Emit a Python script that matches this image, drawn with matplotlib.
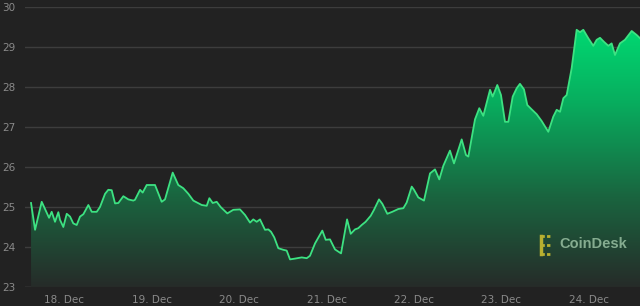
import numpy as np
import matplotlib
matplotlib.use("Agg")
import matplotlib.pyplot as plt
from matplotlib.colors import LinearSegmentedColormap
from matplotlib.patches import Polygon

# x = days since 18 Dec 00:00, y = price
days = [-0.377, -0.331, -0.255, -0.171, -0.141, -0.103, -0.065, -0.046, -0.008, 0.031,
        0.069, 0.106, 0.145, 0.183, 0.221, 0.278, 0.317, 0.374, 0.411, 0.469,
        0.506, 0.545, 0.583, 0.621, 0.678, 0.735, 0.792, 0.811, 0.869, 0.899,
        0.945, 1.040, 1.116, 1.154, 1.242, 1.306, 1.363, 1.421, 1.478, 1.574,
        1.631, 1.661, 1.699, 1.745, 1.790, 1.866, 1.935, 2.011, 2.069, 2.126,
        2.163, 2.202, 2.240, 2.297, 2.335, 2.366, 2.403, 2.449, 2.506, 2.545,
        2.583, 2.640, 2.717, 2.774, 2.811, 2.869, 2.952, 2.991, 3.040, 3.097,
        3.166, 3.235, 3.277, 3.326, 3.363, 3.402, 3.447, 3.505, 3.543, 3.600,
        3.638, 3.695, 3.752, 3.821, 3.878, 3.916, 3.974, 4.000, 4.049, 4.114,
        4.183, 4.240, 4.289, 4.335, 4.411, 4.457, 4.545, 4.594, 4.621, 4.697,
        4.746, 4.792, 4.869, 4.899, 4.952, 4.994, 5.040, 5.078, 5.128, 5.174,
        5.211, 5.257, 5.295, 5.345, 5.402, 5.459, 5.535, 5.592, 5.631, 5.669,
        5.707, 5.745, 5.802, 5.859, 5.897, 5.935, 5.992, 6.049, 6.088, 6.126,
        6.171, 6.221, 6.259, 6.297, 6.354, 6.411, 6.488, 6.545, 6.583]
prices = [25.10, 24.43, 25.13, 24.73, 24.88, 24.63, 24.87, 24.68, 24.50, 24.83,
          24.76, 24.59, 24.55, 24.76, 24.82, 25.05, 24.88, 24.88, 25.00, 25.33,
          25.43, 25.42, 25.09, 25.10, 25.27, 25.19, 25.16, 25.18, 25.43, 25.36,
          25.55, 25.55, 25.13, 25.19, 25.86, 25.55, 25.47, 25.33, 25.16, 25.05,
          25.03, 25.22, 25.10, 25.13, 25.00, 24.84, 24.93, 24.94, 24.80, 24.61,
          24.69, 24.63, 24.69, 24.43, 24.44, 24.38, 24.24, 23.97, 23.93, 23.91,
          23.69, 23.71, 23.74, 23.72, 23.78, 24.09, 24.41, 24.18, 24.19, 23.94,
          23.84, 24.69, 24.33, 24.44, 24.47, 24.55, 24.63, 24.78, 24.93, 25.19,
          25.08, 24.83, 24.88, 24.95, 24.97, 25.11, 25.51, 25.43, 25.24, 25.16,
          25.84, 25.94, 25.69, 26.03, 26.41, 26.09, 26.69, 26.30, 26.26, 27.19,
          27.47, 27.28, 27.93, 27.76, 28.05, 27.80, 27.13, 27.13, 27.76, 27.97,
          28.08, 27.94, 27.55, 27.44, 27.32, 27.15, 26.88, 27.26, 27.43, 27.38,
          27.72, 27.80, 28.47, 29.43, 29.37, 29.43, 29.22, 29.03, 29.18, 29.23,
          29.13, 29.03, 29.09, 28.80, 29.09, 29.18, 29.40, 29.30, 29.22]

tick_pos = [0, 1, 2, 3, 4, 5, 6]
tick_labels = ["18. Dec", "19. Dec", "20. Dec", "21. Dec", "22. Dec", "23. Dec", "24. Dec"]
y_ticks = [23, 24, 25, 26, 27, 28, 29, 30]

BG = "#222222"
fig = plt.figure(figsize=(6.4, 3.06), dpi=100, facecolor=BG)
ax = fig.add_axes([25 / 640, 1 - 287 / 306, 1 - 25 / 640, 280 / 306])
ax.set_facecolor(BG)

x0, x1 = -0.446, 6.583
y0, y1 = 23, 30
ax.set_xlim(x0, x1)
ax.set_ylim(y0, y1)

# gridlines
for yt in y_ticks:
    ax.axhline(yt, color="#5a5a5a" if yt == 23 else "#3d3d3d", lw=1.0, zorder=1)

# gradient fill
cmap = LinearSegmentedColormap.from_list(
    "g", [(0.0, (0.15, 0.17, 0.16)), (0.35, (0.10, 0.40, 0.25)),
          (0.7, (0.03, 0.68, 0.37)), (1.0, (0.0, 0.86, 0.45))])
grad = np.linspace(0, 1, 256).reshape(-1, 1)
im = ax.imshow(grad, extent=[x0, x1, y0, 29.6], origin="lower", aspect="auto",
               cmap=cmap, zorder=2)
verts = [(days[0], y0)] + list(zip(days, prices)) + [(days[-1], y0)]
poly = Polygon(verts, closed=True, facecolor="none", edgecolor="none",
               transform=ax.transData)
ax.add_patch(poly)
im.set_clip_path(poly)

ax.plot(days, prices, color="#3de282", lw=1.3, zorder=3, solid_joinstyle="round")

ax.set_xticks(tick_pos)
ax.set_xticklabels(tick_labels)
ax.set_yticks(y_ticks)
ax.tick_params(axis="both", length=0, colors="#8a8a8a", labelsize=7.5)
ax.tick_params(axis="x", pad=6)
ax.tick_params(axis="y", pad=7)
for s in ax.spines.values():
    s.set_visible(False)

# CoinDesk watermark
fig.text(559 / 640, 1 - 244 / 306, "CoinDesk", color="#a8cfb0", alpha=0.75,
         fontsize=10.5, fontweight="bold", family="Liberation Sans",
         ha="left", va="center")
fig.add_artist(plt.Line2D([541 / 640, 541 / 640], [1 - 236 / 306, 1 - 254 / 306],
                          color="#b8b030", lw=2.5, transform=fig.transFigure))
for yy in (236, 245, 254):
    fig.add_artist(plt.Line2D([541 / 640, 552 / 640], [1 - yy / 306, 1 - yy / 306],
                              color="#b8b030", lw=2.0, ls=(0, (1.2, 0.8)),
                              transform=fig.transFigure))

fig.savefig("out.png", dpi=100, facecolor=BG)
